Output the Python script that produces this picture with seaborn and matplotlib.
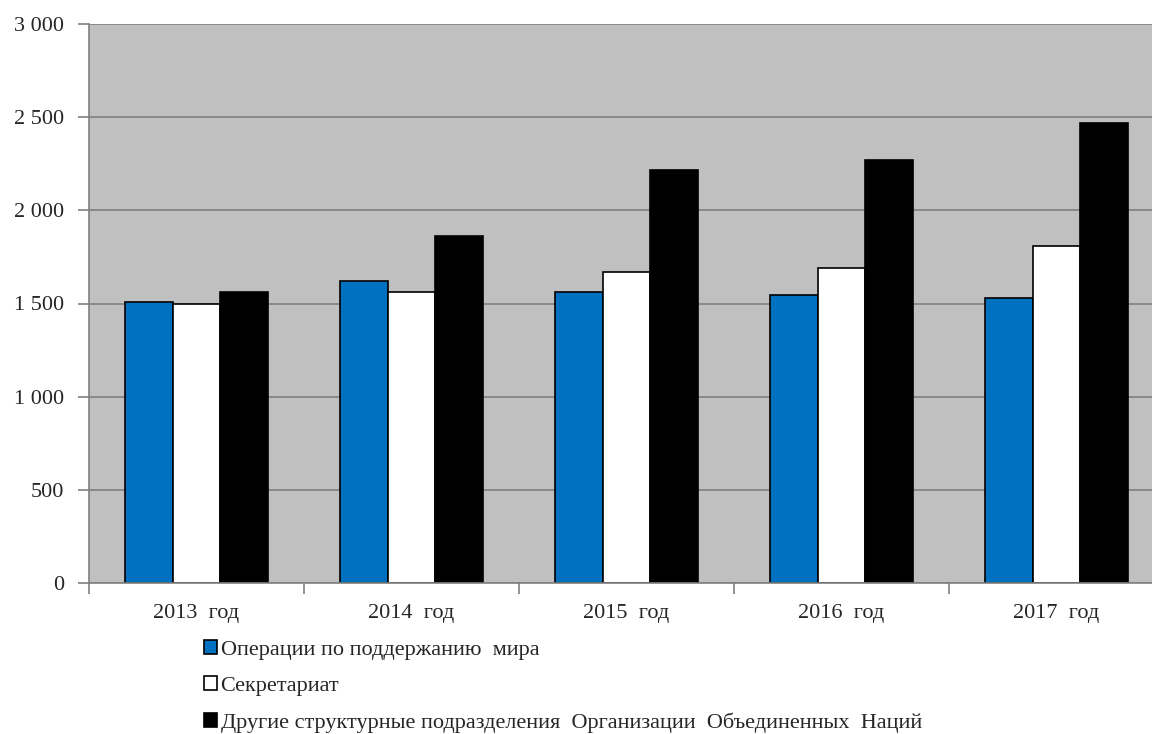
import numpy as np
import pandas as pd
import seaborn as sns
import matplotlib.pyplot as plt
from matplotlib.patches import Patch

# Данные
годы = ["2013  год", "2014  год", "2015  год", "2016  год", "2017  год"]
серии = [
    "Операции по поддержанию  мира",
    "Секретариат",
    "Другие структурные подразделения  Организации  Объединенных  Наций",
]
операции = [1510, 1620, 1560, 1545, 1530]
секретариат = [1500, 1560, 1670, 1690, 1810]
другие = [1560, 1860, 2215, 2270, 2470]

цвета = ["#0070C0", "#FFFFFF", "#000000"]

df = pd.DataFrame({
    "год": годы * 3,
    "серия": [серии[0]] * 5 + [серии[1]] * 5 + [серии[2]] * 5,
    "значение": операции + секретариат + другие,
})

sns.set_style("white")
plt.rcParams["font.family"] = ["Liberation Serif", "DejaVu Serif"]

fig = plt.figure(figsize=(11.52, 7.34), dpi=100)
ax = fig.add_axes([89 / 1152, 1 - 583 / 734, 1075 / 1152, 559 / 734])

sns.barplot(
    data=df, x="год", y="значение", hue="серия",
    palette=цвета, edgecolor="black", linewidth=1.2,
    width=0.665, gap=0, saturation=1, ax=ax, legend=False,
)

ax.set_facecolor("#C0C0C0")
ax.set_ylim(0, 3000)
ax.set_xlim(-0.5, len(годы) - 0.5)
ax.set_yticks(np.arange(0, 3001, 500))
ax.set_yticklabels([f"{v:,}".replace(",", " ") for v in range(0, 3001, 500)])
ax.yaxis.grid(True, color="#808080", linewidth=1.2)
ax.set_axisbelow(True)
ax.set_xlabel("")
ax.set_ylabel("")

for s in ["top", "right"]:
    ax.spines[s].set_visible(False)
for s in ["left", "bottom"]:
    ax.spines[s].set_color("#808080")
    ax.spines[s].set_linewidth(1.2)

ax.tick_params(axis="y", left=True, length=8, color="#808080", width=1.2,
               labelsize=16, pad=10)
# основные деления между группами, подписи по центру групп
ax.set_xticks(np.arange(-0.5, len(годы)), minor=False)
ax.set_xticklabels([])
ax.set_xticks(np.arange(len(годы)), minor=True)
ax.set_xticklabels(годы, minor=True)
ax.tick_params(axis="x", which="major", bottom=True, length=8,
               color="#808080", width=1.2)
ax.tick_params(axis="x", which="minor", bottom=False, labelsize=16, pad=13)

handles = [Patch(facecolor=c, edgecolor="black", linewidth=1.2) for c in цвета]
fig.legend(
    handles, серии, loc="upper left",
    bbox_to_anchor=(195 / 1152, 1 - 631 / 734),
    frameon=False, fontsize=16, handlelength=0.6, handleheight=0.6,
    handletextpad=0.15, labelspacing=0.74, borderaxespad=0,
)

fig.savefig("out.png", dpi=100, facecolor="white")
